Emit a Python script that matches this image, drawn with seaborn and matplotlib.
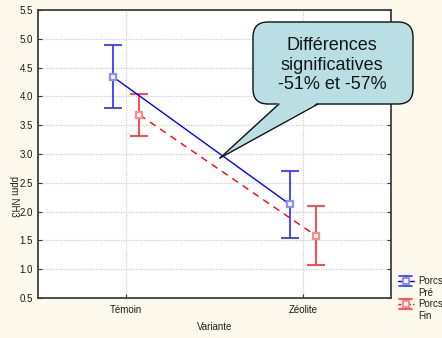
import numpy as np
import pandas as pd
import matplotlib
matplotlib.use("Agg")
import matplotlib.pyplot as plt
import seaborn as sns
from matplotlib.patches import FancyBboxPatch, Polygon
from matplotlib.lines import Line2D

# Mean NH3 concentration (ppm) with interval limits, per variant and sampling time
variantes = ["Témoin", "Zéolite"]
groupes = ["Porcs\nPré", "Porcs\nFin"]
moy_pre = [4.34, 2.13]
haut_pre = [4.89, 2.70]
bas_pre = [3.79, 1.55]
moy_fin = [3.68, 1.58]
haut_fin = [4.04, 2.10]
bas_fin = [3.31, 1.07]
yticks = [0.5, 1.0, 1.5, 2.0, 2.5, 3.0, 3.5, 4.0, 4.5, 5.0, 5.5]
note = "Différences\nsignificatives\n-51% et -57%"

couleurs = ["#0000ff", "#ff0000"]
barres = ["#3a3aff", "#ff3a3a"]
bords = ["#8c8cff", "#ff8c8c"]
fond = "#fdf8ec"
W, H = 442, 338

sns.set_theme(style="white")
plt.rcParams["font.family"] = ["Liberation Sans", "DejaVu Sans"]

fig = plt.figure(figsize=(W / 100, H / 100), dpi=100, facecolor=fond)
ax = fig.add_axes([38 / W, 40 / H, 353 / W, 288 / H])
ax.set_facecolor("white")

df = pd.DataFrame({
    "Variante": variantes * 2,
    "Groupe": [g for g in groupes for _ in variantes],
    "ppm": moy_pre + moy_fin,
})
sns.pointplot(data=df, x="Variante", y="ppm", hue="Groupe", hue_order=groupes,
              palette=couleurs, dodge=0.15, markers="s", linestyles=["-", "--"],
              errorbar=None, legend=False, ax=ax)

lignes = list(ax.lines[:2])
for ln, bord in zip(lignes, bords):
    ln.set_linewidth(1.0)
    ln.set_markersize(5)
    ln.set_markerfacecolor("white")
    ln.set_markeredgecolor(bord)
    ln.set_markeredgewidth(1.6)
    ln.set_zorder(3)
lignes[1].set_dashes((5, 4))

for ln, moy, haut, bas, c in zip(lignes, [moy_pre, moy_fin], [haut_pre, haut_fin],
                                 [bas_pre, bas_fin], barres):
    xs = ln.get_xdata()
    moy, haut, bas = map(np.asarray, (moy, haut, bas))
    ax.errorbar(xs, moy, yerr=[moy - bas, haut - moy], fmt="none", ecolor=c,
                elinewidth=1.3, capsize=6.3, capthick=1.3, zorder=2)

ax.set_xlim(-0.5, 1.5)
ax.set_ylim(0.5, 5.5)
ax.set_yticks(yticks)
ax.set_yticklabels([f"{v:.1f}" for v in yticks])
ax.grid(True, color="#cfcfcf", linestyle=(0, (1, 1)), linewidth=0.9)
ax.set_axisbelow(True)
ax.tick_params(axis="both", direction="in", length=3, width=0.8, color="#333333",
               labelsize=7, labelcolor="#1a1a1a")
ax.tick_params(axis="y", right=True, left=True, pad=3.5)
ax.tick_params(axis="x", bottom=True, pad=5)
for s in ax.spines.values():
    s.set_color("#404040")
    s.set_linewidth(1.3)

ax.set_xlabel("Variante", fontsize=7, color="#202020")
ax.xaxis.set_label_coords(0.5, -0.085)
ax.set_ylabel("ppm NH3", fontsize=7, color="#202020", rotation=270)
ax.yaxis.label.set_va("center")
ax.yaxis.set_label_coords(-0.068, 0.354)

# Callout bubble (pixel coordinates, y from top)
px = fig.dpi_scale_trans
def P(x, y):
    return (x / 100, (H - y) / 100)

bx0, by0, bx1, by1 = 253, 22, 413, 104
box = FancyBboxPatch(P(bx0, by1), (bx1 - bx0) / 100, (by1 - by0) / 100,
                     boxstyle="round,pad=0,rounding_size=0.15",
                     facecolor="#b9dfe4", edgecolor="#101010", linewidth=1.0,
                     transform=px, zorder=10)
fig.add_artist(box)
tip = (220, 158)
b_l, b_r = (279, 104), (318, 104)
fig.add_artist(Polygon([P(b_l[0], 102.5), P(*tip), P(b_r[0], 102.5)], closed=True,
                       facecolor="#b9dfe4", edgecolor="none", transform=px, zorder=11))
for b in (b_l, b_r):
    fig.add_artist(Line2D([P(*b)[0], P(*tip)[0]], [P(*b)[1], P(*tip)[1]],
                          color="#101010", linewidth=1.0, transform=px, zorder=12))
fig.text(*P(332, 65), note, transform=px, ha="center", va="center", fontsize=13,
         linespacing=1.17, color="#151515", zorder=13)

# Legend symbols drawn beside the plot
for i, (g, c, bord) in enumerate(zip(groupes, barres, bords)):
    yc = 281 + 23 * i
    x0, x1, xm = 398, 414, 406
    ls = "-" if i == 0 else (0, (2, 1.5))
    fig.add_artist(Line2D([P(x0, yc)[0], P(x1, yc)[0]], [P(x0, yc)[1]] * 2,
                          color=couleurs[i], linewidth=1.0, linestyle=ls, transform=px))
    for dy in (-5, 5):
        fig.add_artist(Line2D([P(x0 + 1, yc + dy)[0], P(x1 - 2, yc + dy)[0]],
                              [P(x0, yc + dy)[1]] * 2, color=c, linewidth=1.2,
                              transform=px))
    fig.add_artist(Line2D([P(xm, yc - 5)[0]] * 2, [P(xm, yc - 5)[1], P(xm, yc + 5)[1]],
                          color=c, linewidth=1.2, transform=px))
    fig.add_artist(Line2D([P(xm, yc)[0]], [P(xm, yc)[1]], marker="s", markersize=4,
                          markerfacecolor="white", markeredgecolor=bord,
                          markeredgewidth=1.4, transform=px))
    fig.text(*P(418, yc - 5), g, transform=px, ha="left", va="top", fontsize=7,
             linespacing=1.25, color="#202020")

fig.savefig("out.png", dpi=100, facecolor=fond)
